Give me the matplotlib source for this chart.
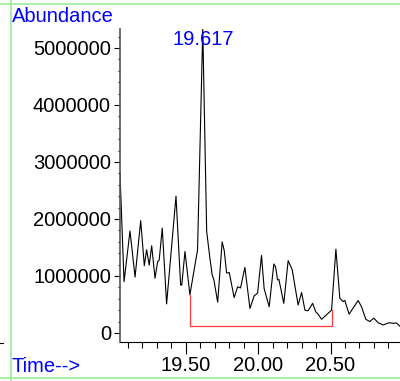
import matplotlib.pyplot as plt
from matplotlib.lines import Line2D
from matplotlib.ticker import MultipleLocator, FixedLocator

plt.rcParams["font.family"] = ["Liberation Sans", "DejaVu Sans"]

# total ion chromatogram segment (time in min, abundance in counts)
time = [19.045, 19.073, 19.114, 19.149, 19.188, 19.213, 19.229, 19.247, 19.264,
        19.287, 19.305, 19.316, 19.337, 19.367, 19.432, 19.464, 19.472, 19.494,
        19.528, 19.581, 19.617, 19.644, 19.666, 19.682, 19.694, 19.720, 19.751,
        19.765, 19.782, 19.800, 19.834, 19.858, 19.878, 19.908, 19.943, 19.972,
        19.996, 20.023, 20.041, 20.076, 20.108, 20.120, 20.134, 20.143, 20.177,
        20.207, 20.235, 20.276, 20.300, 20.323, 20.345, 20.376, 20.398, 20.414,
        20.438, 20.472, 20.507, 20.537, 20.564, 20.587, 20.599, 20.628, 20.691,
        20.714, 20.744, 20.771, 20.799, 20.829, 20.863, 20.905, 20.932, 20.956,
        20.979]
abundance = [2800000, 900000, 1790000, 980000, 1970000, 1180000, 1460000, 1190000,
             1530000, 960000, 1250000, 1280000, 1840000, 510000, 2400000, 840000,
             840000, 1430000, 670000, 1460000, 5330000, 1780000, 1320000, 1020000,
             930000, 540000, 1600000, 1450000, 1050000, 1060000, 620000, 810000,
             790000, 1150000, 430000, 650000, 700000, 1360000, 780000, 460000,
             1210000, 1160000, 930000, 940000, 520000, 1270000, 1110000, 490000,
             710000, 400000, 390000, 520000, 370000, 330000, 240000, 320000,
             400000, 1470000, 610000, 550000, 570000, 330000, 570000, 460000,
             240000, 200000, 260000, 180000, 140000, 180000, 170000, 175000,
             120000]

# integration baseline of the labelled peak
base_time = [19.528, 19.528, 20.507, 20.507]
base_abund = [670000, 120000, 120000, 400000]

peak_rt = 19.617
peak_label = "19.617"

fig = plt.figure(figsize=(4.0, 3.81), dpi=100)
ax = fig.add_axes([0.30, 0.1024, 0.70, 0.8215])

ax.plot(time, abundance, color="black", lw=0.8)
ax.plot(base_time, base_abund, color="#ff3b3b", lw=0.9)
ax.text(peak_rt, 5.14e6, peak_label, color="blue", fontsize=14.5,
        ha="center", va="center")

ax.set_xlim(19.045, 20.98)
ax.set_ylim(-158000, 5333000)

for side in ("top", "right"):
    ax.spines[side].set_visible(False)
ax.spines["left"].set_color("#555555")
ax.spines["left"].set_linewidth(1.2)
ax.spines["bottom"].set_linewidth(0.8)

ax.xaxis.set_major_locator(FixedLocator([19.5, 20.0, 20.5]))
ax.xaxis.set_minor_locator(MultipleLocator(0.1))
ax.set_xticklabels(["19.50", "20.00", "20.50"])
ax.yaxis.set_major_locator(MultipleLocator(1000000))
ax.yaxis.set_minor_locator(MultipleLocator(200000))
ax.yaxis.set_major_formatter(plt.FuncFormatter(lambda v, p: f"{int(round(v))}"))

ax.tick_params(axis="x", which="major", length=8.4, width=0.8, labelsize=14.5, pad=2)
ax.tick_params(axis="x", which="minor", length=4.3, width=0.8)
ax.tick_params(axis="y", which="major", length=4.5, width=0.8, labelsize=14.5, pad=2)
ax.tick_params(axis="y", which="minor", length=1.5, width=0.8)

fig.text(12 / 400, 1 - 17 / 381, "Abundance", color="blue", fontsize=14.5,
         ha="left", va="center")
fig.text(12 / 400, 1 - 366 / 381, "Time-->", color="blue", fontsize=14.5,
         ha="left", va="center")

# light green page frame
green = "#9aee9a"
fig.add_artist(Line2D([0, 1], [1 - 4 / 381] * 2, color=green, lw=1.2))
fig.add_artist(Line2D([0, 1], [1 - 378 / 381] * 2, color=green, lw=1.2))
fig.add_artist(Line2D([11 / 400] * 2, [0, 1], color=green, lw=1.2))
fig.add_artist(Line2D([0, 3 / 400], [1 - 343 / 381] * 2, color="black", lw=0.8))

fig.savefig("out.png", dpi=100)
